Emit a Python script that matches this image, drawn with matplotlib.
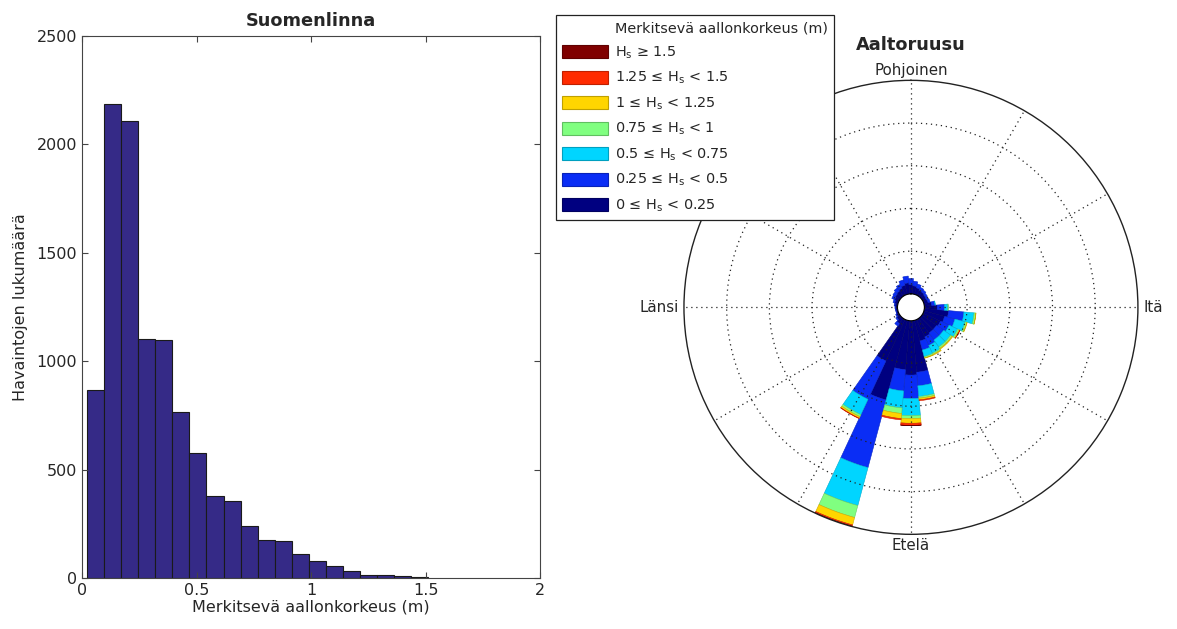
import numpy as np
import matplotlib
matplotlib.use("Agg")
import matplotlib.pyplot as plt
from matplotlib.patches import Patch

plt.rcParams['font.family'] = ['DejaVu Sans']
plt.rcParams['text.color'] = '#262626'
plt.rcParams['axes.labelcolor'] = '#262626'
plt.rcParams['xtick.color'] = '#262626'
plt.rcParams['ytick.color'] = '#262626'

# ---------------- Histogram data ----------------
hist_title = "Suomenlinna"
hist_xlabel = "Merkitsevä aallonkorkeus (m)"
hist_ylabel = "Havaintojen lukumäärä"
hist_lo = 0.023
hist_hi = 1.51
hist_counts = [866, 2185, 2106, 1104, 1100, 767, 577, 379, 356, 242,
               173, 169, 110, 79, 54, 33, 16, 16, 10, 3]
hist_xticks = [0, 0.5, 1, 1.5, 2]
hist_xticklabels = ["0", "0.5", "1", "1.5", "2"]
hist_yticks = [0, 500, 1000, 1500, 2000, 2500]

# ---------------- Wave rose data (percent per 10° sector) ----------------
rose_title = "Aaltoruusu"
directions = list(range(0, 360, 10))
class_labels = ["0 ≤ H$_\\mathrm{s}$ < 0.25",
                "0.25 ≤ H$_\\mathrm{s}$ < 0.5",
                "0.5 ≤ H$_\\mathrm{s}$ < 0.75",
                "0.75 ≤ H$_\\mathrm{s}$ < 1",
                "1 ≤ H$_\\mathrm{s}$ < 1.25",
                "1.25 ≤ H$_\\mathrm{s}$ < 1.5",
                "H$_\\mathrm{s}$ ≥ 1.5"]
class_colors = ["#000080", "#0a2df5", "#00d5ff", "#80ff80",
                "#ffd500", "#ff2b00", "#800000"]
freq_0_025 = [0.88, 0.76, 0.64, 0.52, 0.48, 0.40, 0.36, 0.40, 0.68, 1.20,
              2.28, 2.00, 1.80, 1.68, 1.68, 1.80, 2.00, 4.84, 5.08, 4.60,
              7.72, 4.28, 0.60, 0.36, 0.24, 0.16, 0.16, 0.20, 0.24, 0.32,
              0.44, 0.52, 0.60, 0.72, 0.88, 1.04]
freq_025_05 = [0.56, 0.44, 0.36, 0.28, 0.24, 0.20, 0.20, 0.20, 0.32, 0.68,
               1.44, 1.00, 0.88, 0.80, 0.80, 0.88, 0.88, 1.28, 2.20, 2.00,
               6.56, 3.96, 0.28, 0.12, 0.08, 0.04, 0.04, 0.04, 0.08, 0.16,
               0.28, 0.28, 0.36, 0.40, 0.52, 0.64]
freq_05_075 = [0, 0, 0, 0, 0, 0, 0, 0, 0.04, 0.32,
               0.96, 1.00, 0.88, 0.80, 0.80, 0.80, 0.64, 1.00, 1.60, 1.60,
               3.68, 1.60, 0, 0, 0, 0, 0, 0, 0, 0,
               0, 0, 0, 0, 0, 0]
freq_075_1 = [0, 0, 0, 0, 0, 0, 0, 0, 0, 0.04,
              0.16, 0.16, 0.16, 0.16, 0.16, 0.12, 0.12, 0.16, 0.28, 0.52,
              1.16, 0.20, 0, 0, 0, 0, 0, 0, 0, 0,
              0, 0, 0, 0, 0, 0]
freq_1_125 = [0, 0, 0, 0, 0, 0, 0, 0, 0, 0,
              0.02, 0.04, 0.08, 0.08, 0.08, 0.08, 0.04, 0.16, 0.44, 0.48,
              0.72, 0.16, 0, 0, 0, 0, 0, 0, 0, 0,
              0, 0, 0, 0, 0, 0]
freq_125_15 = [0, 0, 0, 0, 0, 0, 0, 0, 0, 0,
               0, 0, 0.01, 0, 0, 0, 0, 0.08, 0.20, 0.12,
               0.12, 0.04, 0, 0, 0, 0, 0, 0, 0, 0,
               0, 0, 0, 0, 0, 0]
freq_15 = [0, 0, 0, 0, 0, 0, 0, 0, 0, 0,
           0, 0, 0, 0, 0, 0, 0, 0, 0.02, 0,
           0.04, 0, 0, 0, 0, 0, 0, 0, 0, 0,
           0, 0, 0, 0, 0, 0]
rose_rings = [4, 8, 12, 16]
rose_rmax = 20
compass_labels = ["Pohjoinen", "Itä", "Etelä", "Länsi"]
legend_title = "Merkitsevä aallonkorkeus (m)"

# ---------------- Figure ----------------
fig = plt.figure(figsize=(11.77, 6.29), dpi=100)

# Histogram
ax1 = fig.add_axes([0.0697, 0.0811, 0.3891, 0.8617])
edges = np.linspace(hist_lo, hist_hi, len(hist_counts) + 1)
centers = (edges[:-1] + edges[1:]) / 2
ax1.bar(centers, hist_counts, width=edges[1] - edges[0], color="#352a87",
        edgecolor="#1a1a1a", linewidth=0.8)
ax1.set_xlim(0, 2)
ax1.set_ylim(0, 2500)
ax1.set_xticks(hist_xticks)
ax1.set_xticklabels(hist_xticklabels)
ax1.set_yticks(hist_yticks)
ax1.tick_params(direction="in", top=True, right=True, length=4,
                labelsize=11.5, width=0.8, color="#444444")
for s in ax1.spines.values():
    s.set_color("#444444")
    s.set_linewidth(0.8)
ax1.set_title(hist_title, fontsize=12.8, fontweight="bold", pad=7)
ax1.set_xlabel(hist_xlabel, fontsize=11.5, labelpad=1)
ax1.set_ylabel(hist_ylabel, fontsize=11.5, labelpad=6)

# Wave rose
ax2 = fig.add_axes([0.5811, 0.1505, 0.3857, 0.7218], projection="polar")
ax2.set_theta_zero_location("N")
ax2.set_theta_direction(-1)
theta = np.radians(directions)
series = [freq_0_025, freq_025_05, freq_05_075, freq_075_1,
          freq_1_125, freq_125_15, freq_15]
bottom = np.zeros(len(directions))
for vals, col in zip(series, class_colors):
    vals = np.asarray(vals, dtype=float)
    rgb = np.array(matplotlib.colors.to_rgb(col))
    m = vals > 0
    ax2.bar(theta[m], vals[m], width=np.radians(10), bottom=bottom[m],
            color=col, edgecolor=tuple(rgb * 0.8), linewidth=0.4,
            align="center", zorder=1)
    bottom = bottom + vals
ax2.set_rlim(0, rose_rmax)
ax2.set_rorigin(-1.26)
ax2.set_rticks(rose_rings)
ax2.set_yticklabels([])
ax2.set_xticks(np.radians(np.arange(0, 360, 30)))
ax2.set_xticklabels([])
ax2.tick_params(axis="x", length=0, pad=0)
ax2.grid(True, linestyle=(0, (1, 3)), color="#222222", linewidth=0.9)
ax2.spines["polar"].set_linewidth(1.0)
ax2.spines["polar"].set_color("#222222")
if "inner" in ax2.spines:
    ax2.spines["inner"].set_visible(False)
cfs = 10.8
ax2.text(0.5, 1.005, compass_labels[0], transform=ax2.transAxes,
         ha="center", va="bottom", fontsize=cfs)
ax2.text(1.012, 0.5, compass_labels[1], transform=ax2.transAxes,
         ha="left", va="center", fontsize=cfs)
ax2.text(0.5, -0.008, compass_labels[2], transform=ax2.transAxes,
         ha="center", va="top", fontsize=cfs)
ax2.text(-0.012, 0.5, compass_labels[3], transform=ax2.transAxes,
         ha="right", va="center", fontsize=cfs)
fig.text(911 / 1177, 1 - 45 / 629, rose_title, ha="center", va="center",
         fontsize=12.8, fontweight="bold")

# Legend (top class first)
handles = [Patch(facecolor="none", edgecolor="none")]
labels = [legend_title]
for lab, col in list(zip(class_labels, class_colors))[::-1]:
    rgb = np.array(matplotlib.colors.to_rgb(col))
    handles.append(Patch(facecolor=col, edgecolor=tuple(rgb * 0.75),
                         linewidth=0.8))
    labels.append(lab)
leg = fig.legend(handles, labels, loc="upper left",
                 bbox_to_anchor=(556 / 1177, 1 - 15 / 629),
                 frameon=True, fancybox=False, framealpha=1,
                 edgecolor="#222222", fontsize=10.4, handlelength=3.2,
                 handleheight=1.0, labelspacing=0.63, handletextpad=0.45,
                 borderpad=0.42, borderaxespad=0)
leg.get_frame().set_linewidth(0.9)

fig.savefig("out.png", dpi=100)
